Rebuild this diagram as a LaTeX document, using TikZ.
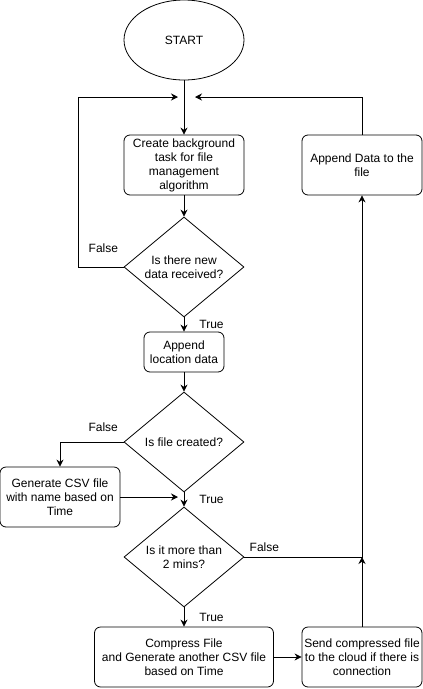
\documentclass[tikz,border=0pt]{standalone}
\usepackage{fontspec}
\setmainfont{Liberation Sans}
\usetikzlibrary{positioning,shapes.geometric,arrows.meta}

\begin{document}
\begin{tikzpicture}[node distance=100pt,on grid,font=\fontsize{12}{14}\selectfont,
    line width=0.8pt,>={Stealth[length=7pt,width=7pt]},
    terminal/.style={draw,ellipse,minimum width=120pt,minimum height=80pt,inner sep=0pt},
    box/.style={draw,rounded corners=6pt,align=center,minimum width=120pt,minimum height=60pt,inner sep=1pt},
    decision/.style={draw,diamond,align=center,minimum width=120pt,minimum height=100pt,inner sep=0pt,shape aspect=1.2},
    lbl/.style={inner sep=0pt}]
                \useasboundingbox (0,0) rectangle (423pt,-689pt);
                \node[terminal] (start) at (184pt,-40pt) {START};
                \node[box,below=125pt of start] (create) {Create background\\task for file\\management\\algorithm};
                \node[decision,below=102pt of create] (data) {Is there new\\data received?};
                \node[box,below=85pt of data,minimum width=80pt,minimum height=40pt] (loc) {Append\\location data};
                \node[decision,below=90pt of loc] (created) {Is file created?};
                \node[box,below left=55pt and 124pt of created] (gencsv) {Generate CSV file\\with name based on\\Time};
                \node[decision,below=115pt of created] (mins) {Is it more than\\2 mins?};
                \node[box,below=100pt of mins,minimum width=179pt] (compress) {Compress File\\and Generate another CSV file\\based on Time};
                \node[box,right=178pt of compress] (send) {Send compressed file\\to the cloud if there is\\connection};
                \node[box,right=178pt of create] (appendd) {Append Data to the\\file};
                \coordinate[above=68pt of create] (j1);
                \coordinate[below=55pt of created] (j2);
                \coordinate (j3) at (send |- mins);
                % main line
                \draw[->] (start) -- (create);
                \draw[->] (create) -- (data);
                \draw[->] (data) -- node[lbl,right=15pt] {True} (loc);
                \draw[->] (loc) -- (created);
                \draw[->] (created) -- node[lbl,right=15pt] {True} (mins);
                \draw[->] (mins) -- node[lbl,right=15pt] {True} (compress);
                \draw[->] (compress) -- (send);
                % loops back
                \draw[->,shorten >=6pt] (data.west) -- ++(-45pt,0) node[lbl,pos=0.45,above=14pt] {False} |- (j1);
                \draw[->,shorten >=11pt] (appendd.north) |- (j1);
                \draw[->] (created.west) -| node[lbl,pos=0.16,above=10pt] {False} (gencsv.north);
                \draw[->,shorten >=6pt] (gencsv.east) -- (j2);
                \draw[->] (mins.east) -- node[lbl,pos=0.17,above=5pt] {False} (j3) -- (appendd.south);
                \draw[->] (send.north) -- (j3);
            \end{tikzpicture}
\end{document}
